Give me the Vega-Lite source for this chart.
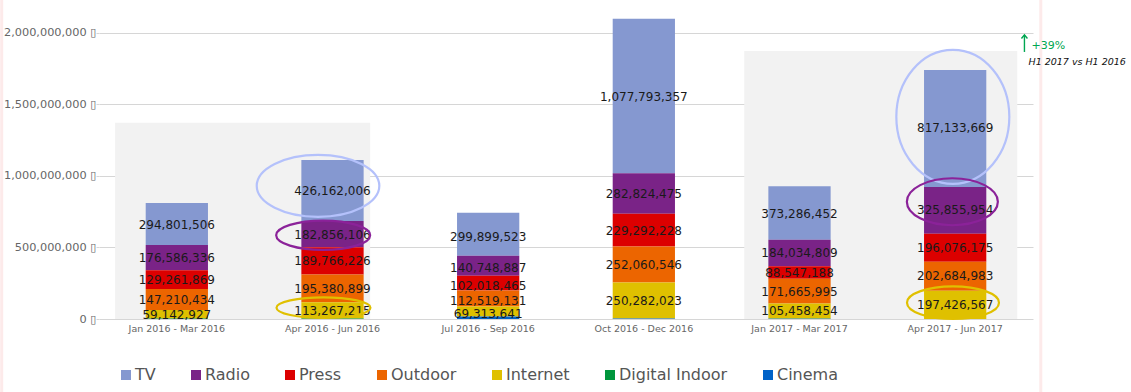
{
  "$schema": "https://vega.github.io/schema/vega-lite/v6.json",
  "width": 934,
  "height": 315,
  "padding": {"left": 99, "top": 4, "right": 98, "bottom": 73},
  "autosize": {"type": "none"},
  "background": "white",
  "config": {
    "font": "DejaVu Sans",
    "view": {"stroke": null},
    "axisY": {
      "title": null,
      "labelExpr": "format(datum.value, ',') + ' ▯'",
      "labelFontSize": 11.3, "labelColor": "#666666", "labelPadding": 0,
      "domain": false, "ticks": true, "tickSize": 3, "tickColor": "#d6d6d6",
      "grid": true, "gridColor": "#d6d6d6", "gridWidth": 1
    }
  },
  "datasets": {
    "media": [
      {"period": "Jan 2016 - Mar 2016", "medium": "TV", "value": 294801506},
      {"period": "Jan 2016 - Mar 2016", "medium": "Radio", "value": 176586336},
      {"period": "Jan 2016 - Mar 2016", "medium": "Press", "value": 129261869},
      {"period": "Jan 2016 - Mar 2016", "medium": "Outdoor", "value": 147210434},
      {"period": "Jan 2016 - Mar 2016", "medium": "Internet", "value": 59142927},
      {"period": "Jan 2016 - Mar 2016", "medium": "Digital Indoor", "value": 4000000},
      {"period": "Jan 2016 - Mar 2016", "medium": "Cinema", "value": 0},
      {"period": "Apr 2016 - Jun 2016", "medium": "TV", "value": 426162006},
      {"period": "Apr 2016 - Jun 2016", "medium": "Radio", "value": 182856106},
      {"period": "Apr 2016 - Jun 2016", "medium": "Press", "value": 189766226},
      {"period": "Apr 2016 - Jun 2016", "medium": "Outdoor", "value": 195380899},
      {"period": "Apr 2016 - Jun 2016", "medium": "Internet", "value": 113267215},
      {"period": "Apr 2016 - Jun 2016", "medium": "Digital Indoor", "value": 3000000},
      {"period": "Apr 2016 - Jun 2016", "medium": "Cinema", "value": 0},
      {"period": "Jul 2016 - Sep 2016", "medium": "TV", "value": 299899523},
      {"period": "Jul 2016 - Sep 2016", "medium": "Radio", "value": 140748887},
      {"period": "Jul 2016 - Sep 2016", "medium": "Press", "value": 102018465},
      {"period": "Jul 2016 - Sep 2016", "medium": "Outdoor", "value": 112519131},
      {"period": "Jul 2016 - Sep 2016", "medium": "Internet", "value": 69313641},
      {"period": "Jul 2016 - Sep 2016", "medium": "Digital Indoor", "value": 0},
      {"period": "Jul 2016 - Sep 2016", "medium": "Cinema", "value": 18000000},
      {"period": "Oct 2016 - Dec 2016", "medium": "TV", "value": 1077793357},
      {"period": "Oct 2016 - Dec 2016", "medium": "Radio", "value": 282824475},
      {"period": "Oct 2016 - Dec 2016", "medium": "Press", "value": 229292228},
      {"period": "Oct 2016 - Dec 2016", "medium": "Outdoor", "value": 252060546},
      {"period": "Oct 2016 - Dec 2016", "medium": "Internet", "value": 250282023},
      {"period": "Oct 2016 - Dec 2016", "medium": "Digital Indoor", "value": 0},
      {"period": "Oct 2016 - Dec 2016", "medium": "Cinema", "value": 4000000},
      {"period": "Jan 2017 - Mar 2017", "medium": "TV", "value": 373286452},
      {"period": "Jan 2017 - Mar 2017", "medium": "Radio", "value": 184034809},
      {"period": "Jan 2017 - Mar 2017", "medium": "Press", "value": 88547188},
      {"period": "Jan 2017 - Mar 2017", "medium": "Outdoor", "value": 171665995},
      {"period": "Jan 2017 - Mar 2017", "medium": "Internet", "value": 105458454},
      {"period": "Jan 2017 - Mar 2017", "medium": "Digital Indoor", "value": 2000000},
      {"period": "Jan 2017 - Mar 2017", "medium": "Cinema", "value": 1500000},
      {"period": "Apr 2017 - Jun 2017", "medium": "TV", "value": 817133669},
      {"period": "Apr 2017 - Jun 2017", "medium": "Radio", "value": 325855954},
      {"period": "Apr 2017 - Jun 2017", "medium": "Press", "value": 196076175},
      {"period": "Apr 2017 - Jun 2017", "medium": "Outdoor", "value": 202684983},
      {"period": "Apr 2017 - Jun 2017", "medium": "Internet", "value": 197426567},
      {"period": "Apr 2017 - Jun 2017", "medium": "Digital Indoor", "value": 0},
      {"period": "Apr 2017 - Jun 2017", "medium": "Cinema", "value": 0}
    ],
    "bg": [
      {"x0": 0.1035, "x1": 1.742, "top": 1370000000, "bottom": 0},
      {"x0": 4.145, "x1": 5.899, "top": 1872000000, "bottom": 0}
    ],
    "edges": [
      {"x": -0.625, "y0": -560000000, "y1": 2240000000},
      {"x": 6.05, "y0": -560000000, "y1": 2240000000}
    ],
    "ell": [
      {"id": "e1", "medium": "TV", "x": 1.407, "y": 930000000},
      {"id": "e2", "medium": "Radio", "x": 1.44, "y": 585000000},
      {"id": "e3", "medium": "Internet", "x": 1.442, "y": 79000000},
      {"id": "e4", "medium": "TV", "x": 5.485, "y": 1412000000},
      {"id": "e5", "medium": "Radio", "x": 5.482, "y": 819000000},
      {"id": "e6", "medium": "Internet", "x": 5.486, "y": 114000000}
    ],
    "arrow": [
      {"x": 5.945, "y0": 1865000000, "y1": 1984000000}
    ],
    "notes": [
      {"kind": "change", "label": "+39%", "x": 5.99, "y": 1907000000},
      {"kind": "caption", "label": "H1 2017 vs H1 2016", "x": 5.971, "y": 1796000000}
    ]
  },
  "resolve": {"scale": {"x": "independent"}, "axis": {"x": "independent"}},
  "layer": [
    {
      "data": {"name": "edges"},
      "mark": {"type": "rule", "stroke": "#fdeaea", "strokeWidth": 3},
      "encoding": {
        "x": {"field": "x", "type": "quantitative", "scale": {"domain": [0, 6], "nice": false, "zero": false}, "axis": null},
        "y": {"field": "y0", "type": "quantitative", "scale": {"domain": [0, 2200000000], "nice": false}, "title": null, "axis": {"values": [0, 500000000, 1000000000, 1500000000, 2000000000]}},
        "y2": {"field": "y1"}
      }
    },
    {
      "data": {"name": "bg"},
      "mark": {"type": "rect", "fill": "#f2f2f2"},
      "encoding": {
        "x": {"field": "x0", "type": "quantitative", "scale": {"domain": [0, 6], "nice": false, "zero": false}, "axis": null},
        "x2": {"field": "x1"},
        "y": {"field": "top", "type": "quantitative", "scale": {"domain": [0, 2200000000], "nice": false}, "title": null, "axis": {"values": [0, 500000000, 1000000000, 1500000000, 2000000000]}},
        "y2": {"field": "bottom"}
      }
    },
    {
      "data": {"name": "media"},
      "mark": {"type": "bar"},
      "encoding": {
        "x": {
          "field": "period", "type": "nominal",
          "scale": {"domain": ["Jan 2016 - Mar 2016", "Apr 2016 - Jun 2016", "Jul 2016 - Sep 2016", "Oct 2016 - Dec 2016", "Jan 2017 - Mar 2017", "Apr 2017 - Jun 2017"], "paddingInner": 0.6, "paddingOuter": 0.3},
          "axis": {"title": null, "labelAngle": 0, "labelFontSize": 9.5, "labelColor": "#666666", "ticks": false, "domain": false, "labelPadding": 4}
        },
        "y": {
          "field": "value", "type": "quantitative", "stack": "zero",
          "scale": {"domain": [0, 2200000000], "nice": false}, "title": null, "axis": {"values": [0, 500000000, 1000000000, 1500000000, 2000000000]}
        },
        "order": {"field": "medium", "sort": "ascending"},
        "color": {
          "field": "medium", "type": "nominal",
          "scale": {
            "domain": ["TV", "Radio", "Press", "Outdoor", "Internet", "Digital Indoor", "Cinema"],
            "range": ["#8598d0", "#7a2387", "#dc0000", "#ec6500", "#dfc000", "#00963c", "#0062c8"]
          },
          "legend": {
            "title": null, "orient": "none", "direction": "horizontal",
            "legendX": 19, "legendY": 363,
            "symbolType": "square", "symbolSize": 100, "symbolStrokeWidth": 0,
            "labelFontSize": 16, "labelColor": "#555555", "labelOffset": 1,
            "columnPadding": 32
          }
        }
      }
    },
    {
      "data": {"name": "media"},
      "transform": [{"filter": "datum.value > 30000000"}],
      "mark": {"type": "text", "fontSize": 12, "color": "#1a1a1a", "baseline": "middle"},
      "encoding": {
        "x": {
          "field": "period", "type": "nominal",
          "scale": {"domain": ["Jan 2016 - Mar 2016", "Apr 2016 - Jun 2016", "Jul 2016 - Sep 2016", "Oct 2016 - Dec 2016", "Jan 2017 - Mar 2017", "Apr 2017 - Jun 2017"], "paddingInner": 0.6, "paddingOuter": 0.3},
          "axis": null
        },
        "y": {
          "field": "value", "type": "quantitative", "stack": "zero", "bandPosition": 0.5,
          "scale": {"domain": [0, 2200000000], "nice": false}, "title": null, "axis": {"values": [0, 500000000, 1000000000, 1500000000, 2000000000]}
        },
        "order": {"field": "medium", "sort": "ascending"},
        "detail": {"field": "medium"},
        "text": {"field": "value", "type": "quantitative", "format": ","}
      }
    },
    {
      "data": {"name": "ell"},
      "mark": {"type": "point", "filled": false, "strokeWidth": 2.2, "opacity": 1},
      "encoding": {
        "x": {"field": "x", "type": "quantitative", "scale": {"domain": [0, 6], "nice": false, "zero": false}, "axis": null},
        "y": {"field": "y", "type": "quantitative", "scale": {"domain": [0, 2200000000], "nice": false}, "title": null, "axis": {"values": [0, 500000000, 1000000000, 1500000000, 2000000000]}},
        "size": {"value": 4},
        "shape": {
          "field": "id", "type": "nominal", "legend": null,
          "scale": {
            "domain": ["e1", "e2", "e3", "e4", "e5", "e6"],
            "range": [
              "M-61.3,0A61.3,31,0,1,0,61.3,0A61.3,31,0,1,0,-61.3,0Z",
              "M-47,0A47,14.7,0,1,0,47,0A47,14.7,0,1,0,-47,0Z",
              "M-47,0A47,10.3,0,1,0,47,0A47,10.3,0,1,0,-47,0Z",
              "M-56.5,0A56.5,67,0,1,0,56.5,0A56.5,67,0,1,0,-56.5,0Z",
              "M-45.5,0A45.5,23.5,0,1,0,45.5,0A45.5,23.5,0,1,0,-45.5,0Z",
              "M-46,0A46,16.3,0,1,0,46,0A46,16.3,0,1,0,-46,0Z"
            ]
          }
        },
        "stroke": {
          "field": "medium", "type": "nominal", "legend": null,
          "scale": {"domain": ["TV", "Radio", "Internet"], "range": ["#b4c1fb", "#8b2299", "#e0c000"]}
        }
      }
    },
    {
      "data": {"name": "arrow"},
      "mark": {"type": "rule", "stroke": "#00a651", "strokeWidth": 1.4},
      "encoding": {
        "x": {"field": "x", "type": "quantitative", "scale": {"domain": [0, 6], "nice": false, "zero": false}, "axis": null},
        "y": {"field": "y0", "type": "quantitative", "scale": {"domain": [0, 2200000000], "nice": false}, "title": null, "axis": {"values": [0, 500000000, 1000000000, 1500000000, 2000000000]}},
        "y2": {"field": "y1"}
      }
    },
    {
      "data": {"name": "arrow"},
      "mark": {"type": "point", "filled": false, "stroke": "#00a651", "strokeWidth": 1.4, "opacity": 1, "shape": "M-3,3.5L0,0L3,3.5"},
      "encoding": {
        "x": {"field": "x", "type": "quantitative", "scale": {"domain": [0, 6], "nice": false, "zero": false}, "axis": null},
        "y": {"field": "y1", "type": "quantitative", "scale": {"domain": [0, 2200000000], "nice": false}, "title": null, "axis": {"values": [0, 500000000, 1000000000, 1500000000, 2000000000]}},
        "size": {"value": 4}
      }
    },
    {
      "data": {"name": "notes"},
      "transform": [{"filter": "datum.kind == 'change'"}],
      "mark": {"type": "text", "align": "left", "baseline": "middle", "fontSize": 11, "color": "#00a651"},
      "encoding": {
        "x": {"field": "x", "type": "quantitative", "scale": {"domain": [0, 6], "nice": false, "zero": false}, "axis": null},
        "y": {"field": "y", "type": "quantitative", "scale": {"domain": [0, 2200000000], "nice": false}, "title": null, "axis": {"values": [0, 500000000, 1000000000, 1500000000, 2000000000]}},
        "text": {"field": "label"}
      }
    },
    {
      "data": {"name": "notes"},
      "transform": [{"filter": "datum.kind == 'caption'"}],
      "mark": {"type": "text", "align": "left", "baseline": "middle", "fontSize": 9.5, "fontStyle": "italic", "color": "#111111"},
      "encoding": {
        "x": {"field": "x", "type": "quantitative", "scale": {"domain": [0, 6], "nice": false, "zero": false}, "axis": null},
        "y": {"field": "y", "type": "quantitative", "scale": {"domain": [0, 2200000000], "nice": false}, "title": null, "axis": {"values": [0, 500000000, 1000000000, 1500000000, 2000000000]}},
        "text": {"field": "label"}
      }
    }
  ]
}
